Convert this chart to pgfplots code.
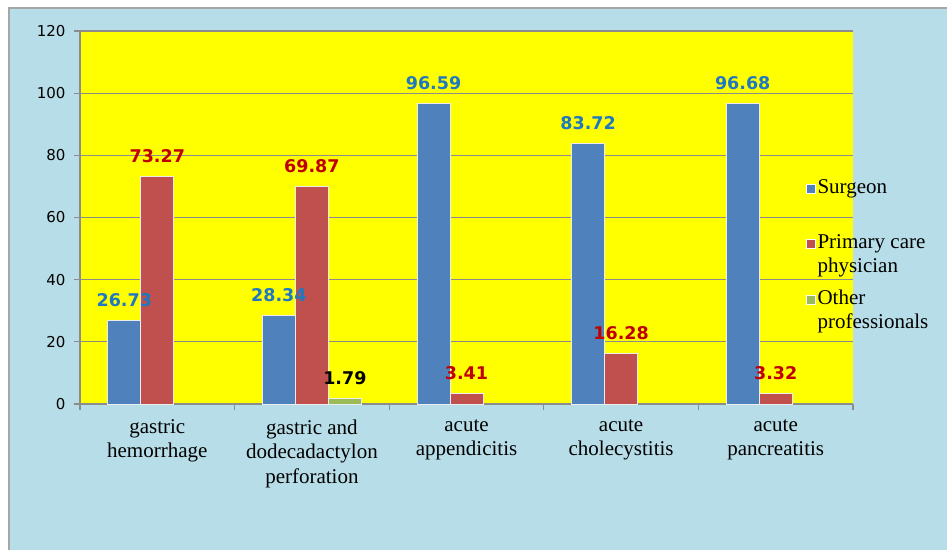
\documentclass[border=0pt]{standalone}
\usepackage{fontspec}
\setmainfont{Liberation Serif}
\newfontfamily\tickfont{DejaVu Sans}
\usepackage{pgfplots}
\pgfplotsset{compat=1.18}

\definecolor{chartbg}{HTML}{B7DDE8}
\definecolor{plotbg}{HTML}{FFFF00}
\definecolor{surg}{HTML}{4F81BD}
\definecolor{prim}{HTML}{C0504D}
\definecolor{othr}{HTML}{9BBB59}
\definecolor{lblblue}{HTML}{1F78C0}
\definecolor{lblred}{HTML}{C00000}
\definecolor{gridgray}{HTML}{8C8C8C}

% two-line legend entry, baseline on the first line
\newcommand{\twoline}[2]{\vtop{\hbox{#1}\hbox{#2}}}

\begin{document}
\begin{tikzpicture}
\useasboundingbox (0,0) rectangle (947pt,550pt);
\fill[white] (0,0) rectangle (947pt,550pt);
\fill[chartbg] (9pt,0) rectangle (947pt,542pt);
\draw[gray!70, line width=1.5pt] (9pt,0) -- (9pt,542pt) -- (947pt,542pt);

\begin{axis}[
    at={(80pt,146pt)}, anchor=south west,
    scale only axis,
    width=773pt, height=373pt,
    axis background/.style={fill=plotbg},
    ybar=0pt,
    bar width=33pt,
    xmin=0, xmax=5,
    ymin=0, ymax=120,
    ytick={0,20,...,120},
    xtick={0.5,1.5,2.5,3.5,4.5},
    xticklabels={gastric\\hemorrhage, {gastric and\\dodecadactylon\\perforation}, acute\\appendicitis, acute\\cholecystitis, acute\\pancreatitis},
    minor xtick={0,1,2,3,4,5},
    major x tick style={draw=none},
    tick align=outside,
    major tick length=6pt,
    minor tick length=6pt,
    tick style={gridgray, line width=1.2pt},
    axis x line*=bottom, axis y line*=left,
    axis line style={gridgray, line width=1.2pt},
    ymajorgrids,
    major grid style={gridgray, line width=1.2pt},
    /pgf/number format/assume math mode=true,
    yticklabel style={font=\tickfont\fontsize{15}{17}\selectfont, xshift=-5pt},
    xticklabel style={align=center, font=\fontsize{21}{24.5}\selectfont, yshift=-6pt},
    legend style={at={(rel axis cs:0.935,0.614)}, anchor=north west, draw=none, fill=none,
        font=\fontsize{21}{24}\selectfont, row sep=36pt,
        cells={anchor=base west}},
    legend image code/.code={\draw[#1, draw=white, line width=0.6pt] (0pt,0pt) rectangle (9pt,9pt);},
    nodes near coords={\pgfmathprintnumber[fixed,fixed zerofill,precision=2]{\pgfplotspointmeta}},
    nodes near coords style={font=\tickfont\bfseries\fontsize{17.5}{20}\selectfont, yshift=10pt},
]
\addplot[fill=surg, draw=white!85!gray, line width=1pt,
    every node near coord/.append style={text=lblblue}]
    coordinates {(0.5,26.73) (1.5,28.34) (2.5,96.59) (3.5,83.72) (4.5,96.68)};
\addplot[fill=prim, draw=white!85!gray, line width=1pt,
    every node near coord/.append style={text=lblred}]
    coordinates {(0.5,73.27) (1.5,69.87) (2.5,3.41) (3.5,16.28) (4.5,3.32)};
\addplot[fill=othr, draw=white!85!gray, line width=1pt,
    every node near coord/.append style={text=black}]
    coordinates {(1.5,1.79)};
\legend{Surgeon, \twoline{Primary care}{physician}, \twoline{Other}{professionals}}
\end{axis}
\end{tikzpicture}
\end{document}
